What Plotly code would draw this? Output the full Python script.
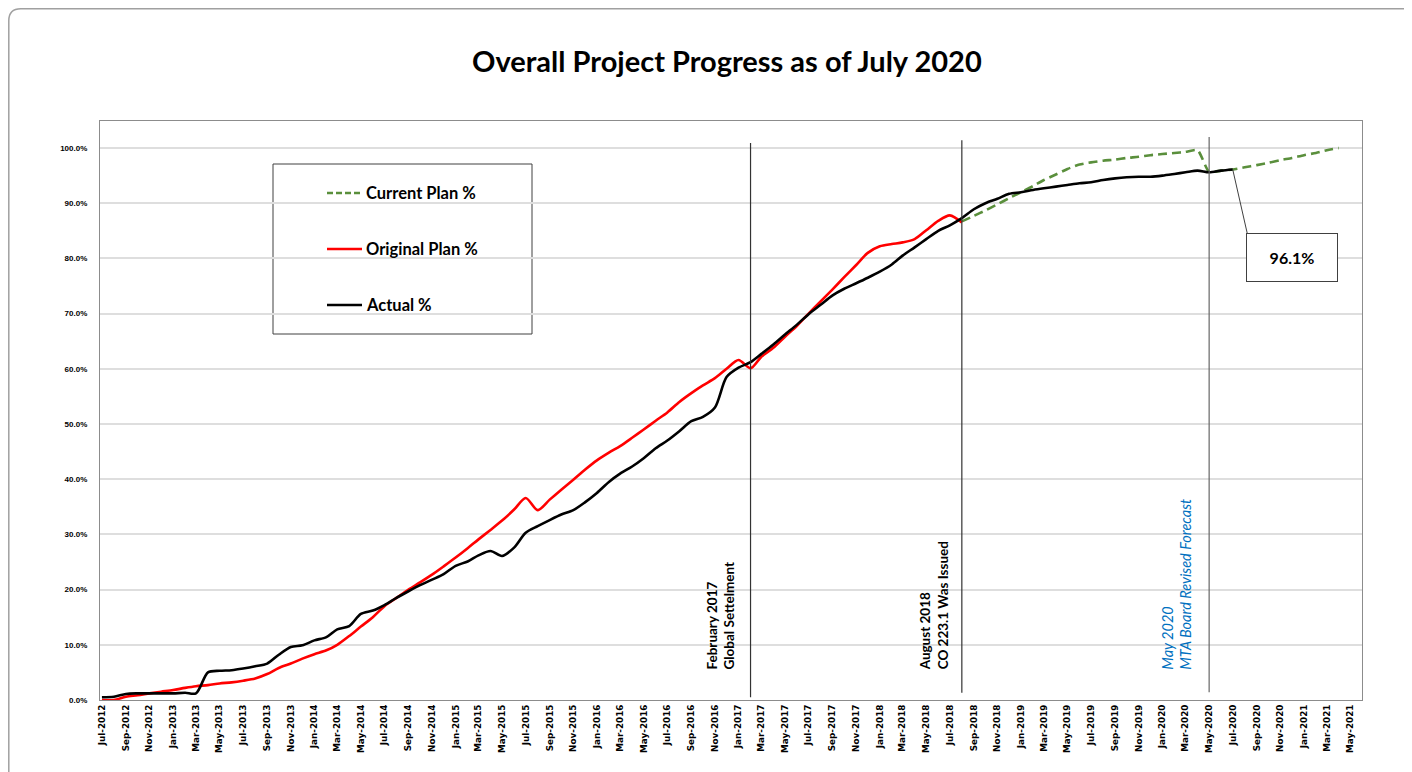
import plotly.graph_objects as go
import pandas as pd

# ---------------- data ----------------
actual_start = "2012-07-01"
actual_pct = [
    0.5, 0.6, 1.1, 1.2, 1.2, 1.2, 1.2, 1.3, 1.2, 5.0,
    5.3, 5.4, 5.7, 6.1, 6.6, 8.2, 9.6, 9.9, 10.8, 11.4,
    12.8, 13.4, 15.6, 16.2, 17.2, 18.5, 19.7, 20.8, 21.8, 22.8,
    24.3, 25.1, 26.2, 27.0, 26.1, 27.6, 30.3, 31.5, 32.6, 33.6,
    34.4, 35.8, 37.5, 39.5, 41.0, 42.3, 43.8, 45.6, 47.0, 48.7,
    50.5, 51.3, 53.0, 58.5, 60.2, 61.2, 62.7, 64.4, 66.2, 68.0,
    69.9, 71.6, 73.3, 74.5, 75.5, 76.5, 77.6, 78.9, 80.5, 82.0,
    83.5, 85.0, 86.0, 87.3, 88.9, 90.0, 90.8, 91.7, 92.0, 92.4,
    92.7, 93.0, 93.3, 93.6, 93.8, 94.2, 94.5, 94.7, 94.8, 94.8,
    95.0, 95.3, 95.6, 95.9, 95.6, 95.9, 96.1,
]

original_start = "2012-07-01"
original_pct = [
    0.0, 0.0, 0.6, 0.85, 1.2, 1.5, 1.8, 2.2, 2.5, 2.7,
    3.0, 3.2, 3.5, 3.9, 4.7, 5.8, 6.6, 7.5, 8.3, 9.0,
    10.0, 11.6, 13.3, 15.0, 17.0, 18.5, 20.0, 21.3, 22.7, 24.2,
    25.8, 27.5, 29.1, 30.8, 32.5, 34.5, 36.6, 34.4, 36.3, 38.1,
    39.9, 41.7, 43.4, 44.8, 46.0, 47.5, 49.0, 50.6, 52.1, 54.0,
    55.6, 57.0, 58.3, 60.0, 61.6, 60.1, 62.2, 63.8, 65.8, 67.8,
    70.0, 72.2, 74.4, 76.6, 78.8, 81.0, 82.2, 82.6, 82.9, 83.5,
    85.1, 86.8, 87.8, 86.5,
]

current_start = "2018-08-01"
current_pct = [
    86.7, 87.7, 88.7, 89.8, 90.9, 92.0, 93.1, 94.2, 95.2, 96.2,
    97.0, 97.4, 97.7, 97.9, 98.2, 98.4, 98.7, 98.9, 99.1, 99.3,
    99.6, 95.7, 95.9, 96.1, 96.5, 96.9, 97.3, 97.8, 98.2, 98.7,
    99.1, 99.6, 100.0,
]

y_ticks = [0, 10, 20, 30, 40, 50, 60, 70, 80, 90, 100]

milestone_dates = ["2017-02-01", "2018-08-01", "2020-05-01"]
milestone_labels = [
    "February 2017<br>Global Settelment",
    "August 2018<br>CO 223.1 Was Issued",
    "May 2020<br>MTA Board Revised Forecast",
]

callout_date = "2020-07-01"
callout_value = 96.1

title_text = "Overall Project Progress as of July 2020"

# ---------------- derived ----------------
actual_x = pd.date_range(actual_start, periods=len(actual_pct), freq="MS")
original_x = pd.date_range(original_start, periods=len(original_pct), freq="MS")
current_x = pd.date_range(current_start, periods=len(current_pct), freq="MS")
tick_dates = pd.date_range("2012-07-01", "2021-05-01", freq="2MS")
tick_text = [d.strftime("%b-%Y") for d in tick_dates]

# page has an 8px body margin: work in screen pixels, convert to figure pixels
OFF = 8
W, H = 1412 - OFF, 772 - OFF
L, R, T, B = 100 - OFF, 1362 - OFF, 121 - OFF, 700 - OFF   # plot area in figure px
PX_PER_PCT = 5.52


def px(x):  # screen x -> paper
    return (x - OFF - L) / (R - L)


def py(y):  # screen y -> paper
    return (B - (y - OFF)) / (B - T)


GREEN = "#5A8F3C"
RED = "#FF0000"
BLACK = "#000000"
FONT = "Lato"

fig = go.Figure()
fig.add_trace(go.Scatter(
    x=current_x, y=current_pct, mode="lines", name="Current Plan %",
    line=dict(color=GREEN, width=2.6, dash="9px,5px", shape="spline", smoothing=0.6),
    showlegend=False))
fig.add_trace(go.Scatter(
    x=original_x, y=original_pct, mode="lines", name="Original Plan %",
    line=dict(color=RED, width=2.6, shape="spline", smoothing=0.8),
    showlegend=False))
fig.add_trace(go.Scatter(
    x=actual_x, y=actual_pct, mode="lines", name="Actual %",
    line=dict(color=BLACK, width=2.6, shape="spline", smoothing=0.8),
    showlegend=False))

shapes = []
annotations = []

# milestone vertical lines
line_tops = [100.9, 101.4, 102.0]
line_bottoms = [0.5, 1.3, 1.4]
line_cols = ["#333333", "#333333", "#666666"]
for d, y0, y1, c in zip(milestone_dates, line_bottoms, line_tops, line_cols):
    shapes.append(dict(type="line", xref="x", yref="y", x0=d, x1=d, y0=y0, y1=y1,
                       line=dict(color=c, width=1.2)))

# milestone labels (rotated)
lab_shift = [-11, -9, -13]
lab_font = [
    dict(family=FONT, size=13.5, color="#000000", weight="bold"),
    dict(family=FONT, size=13.5, color="#000000", weight="bold"),
    dict(family=FONT, size=14.5, color="#0070C0", style="italic"),
]
for d, t, s, f in zip(milestone_dates, milestone_labels, lab_shift, lab_font):
    annotations.append(dict(
        x=d, y=(700 - 672) / PX_PER_PCT, xref="x", yref="y", text=t, textangle=-90,
        showarrow=False, xanchor="right", yanchor="bottom", align="left",
        xshift=s, font=f))

# callout leader + box
annotations.append(dict(
    x=callout_date, y=callout_value, xref="x", yref="y", text="",
    showarrow=True, arrowhead=0, arrowwidth=1, arrowcolor="#404040",
    ax=15, ay=66, standoff=0))
annotations.append(dict(
    x=callout_date, y=callout_value, xref="x", yref="y",
    text=f"<b>{callout_value:.1f}%</b>", showarrow=False,
    xshift=59, yshift=-88, width=88, height=45,
    bordercolor="#404040", borderwidth=1, bgcolor="white",
    font=dict(family=FONT, size=16, color="#000000")))

# legend (drawn)
shapes.append(dict(type="rect", xref="paper", yref="paper",
                   x0=px(273), x1=px(532), y0=py(334), y1=py(164),
                   line=dict(color="#404040", width=1), fillcolor="white", layer="below"))
leg = [("Current Plan %", GREEN, "6px,3px", 193),
       ("Original Plan %", RED, "solid", 249),
       ("Actual %", BLACK, "solid", 305)]
for name, col, dash, yy in leg:
    shapes.append(dict(type="line", xref="paper", yref="paper",
                       x0=px(327), x1=px(362), y0=py(yy), y1=py(yy),
                       line=dict(color=col, width=2.6, dash=dash)))
    annotations.append(dict(x=px(364), y=py(yy), xref="paper", yref="paper",
                            text=f"<b>{name}</b>", showarrow=False,
                            xanchor="left", yanchor="middle",
                            font=dict(family=FONT, size=16.5, color="#000000")))

# outer chart border with rounded corner
r = 12
ox, oy = 8.8, 8.8
path = (f"M {px(ox)},{py(780)} L {px(ox)},{py(oy + r)} "
        f"Q {px(ox)},{py(oy)} {px(ox + r)},{py(oy)} L {px(1420)},{py(oy)}")
shapes.append(dict(type="path", xref="paper", yref="paper", path=path,
                   line=dict(color="#A0A0A0", width=1.5)))

# title
annotations.append(dict(x=px(727), y=py(60), xref="paper", yref="paper",
                        text=f"<b>{title_text}</b>", showarrow=False,
                        xanchor="center", yanchor="middle",
                        font=dict(family=FONT, size=29, color="#000000")))

fig.update_layout(
    width=W, height=H,
    margin=dict(l=L, r=W - R, t=T, b=H - B),
    paper_bgcolor="white", plot_bgcolor="white",
    shapes=shapes, annotations=annotations,
    showlegend=False,
)
fig.update_xaxes(
    type="date", range=["2012-06-26", "2021-05-31"],
    tickmode="array", tickvals=tick_dates, ticktext=tick_text,
    tickangle=-90, tickfont=dict(family="DejaVu Sans", size=8.8, color="#000000", weight="bold"),
    showgrid=False, showline=True, linecolor="#8C8C8C", linewidth=1.2, mirror=True,
    ticks="", zeroline=False,
)
fig.update_yaxes(
    range=[0, (B - T) / PX_PER_PCT], tickmode="array", tickvals=y_ticks,
    ticktext=[f"{v:.1f}%" for v in y_ticks],
    tickfont=dict(family="Liberation Sans", size=8, color="#000000", weight="bold"),
    showgrid=True, gridcolor="#DEDEDE", gridwidth=1.5,
    showline=True, linecolor="#8C8C8C", linewidth=1.2, mirror=True,
    ticks="", zeroline=False, ticklabelstandoff=10,
)

fig.write_html("out.html")
